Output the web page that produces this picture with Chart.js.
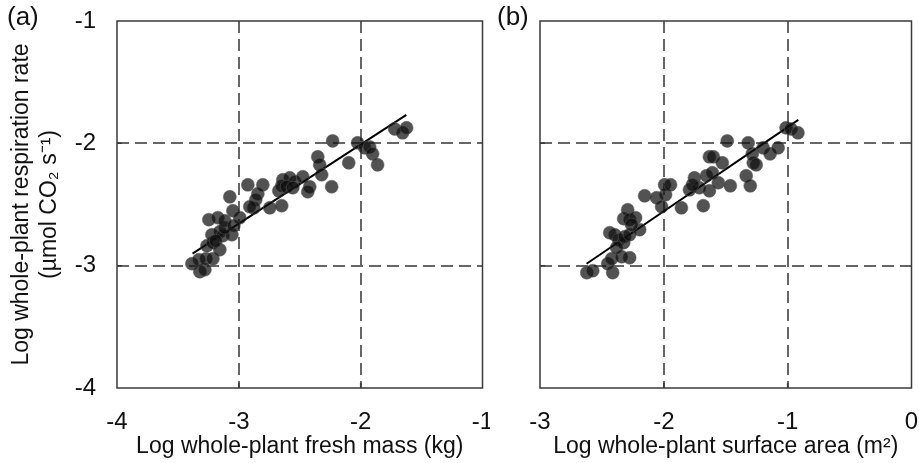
<!DOCTYPE html>
<html>
<head>
<meta charset="utf-8">
<script src="https://cdn.jsdelivr.net/npm/chart.js@4"></script>
<style>
  body { margin: 0; background: #fff; }
  #wrapA { position: absolute; left: 0; top: 0; width: 490px; height: 463px; }
  #wrapB { position: absolute; left: 490px; top: 0; width: 429px; height: 463px; }
</style>
</head>
<body>
<div id="wrapA"><canvas id="chartA"></canvas></div>
<div id="wrapB"><canvas id="chartB"></canvas></div>
<script>
// panel (a): log fresh mass (kg) vs log respiration
const massX = [-3.385, -3.320, -3.279, -3.328, -3.270, -3.213, -3.262, -3.213, -3.156, -3.221,
  -3.156, -3.131, -3.057, -3.115, -3.246, -3.172, -3.115, -3.049, -2.992, -3.041,
  -3.074, -2.926, -2.803, -2.844, -2.861, -2.877, -2.746, -2.648, -2.672, -2.639,
  -2.582, -2.541, -2.648, -2.607, -2.557, -2.475, -2.418, -2.434, -2.352, -2.336,
  -2.320, -2.238, -2.230, -2.098, -2.025, -1.967, -1.926, -1.902, -1.861, -1.721,
  -1.656, -1.623, -3.189, -2.910];
const massResp = [-2.984, -3.049, -3.033, -2.951, -2.943, -2.943, -2.837, -2.812, -2.869, -2.747,
  -2.722, -2.755, -2.747, -2.690, -2.624, -2.608, -2.633, -2.551, -2.608, -2.673,
  -2.437, -2.339, -2.339, -2.412, -2.461, -2.527, -2.527, -2.510, -2.388, -2.298,
  -2.282, -2.314, -2.347, -2.355, -2.363, -2.273, -2.355, -2.396, -2.110, -2.176,
  -2.257, -2.355, -1.980, -2.159, -1.996, -2.037, -2.029, -2.086, -2.176, -1.882,
  -1.914, -1.873, -2.796, -2.518];
const massFitX = [-3.38, -1.625];
const massFitY = [-2.902, -1.767];

// panel (b): log surface area (m2) vs log respiration
const areaX = [-2.622, -2.574, -2.413, -2.453, -2.421, -2.276, -2.340, -2.437, -2.397, -2.364,
  -2.324, -2.381, -2.316, -2.276, -2.195, -2.324, -2.292, -2.276, -2.228, -2.260,
  -2.155, -2.059, -2.018, -1.986, -1.994, -1.946, -1.858, -1.793, -1.753, -1.713,
  -1.656, -1.632, -1.681, -1.608, -1.560, -1.463, -1.632, -1.600, -1.528, -1.488,
  -1.335, -1.302, -1.319, -1.286, -1.278, -1.254, -1.198, -1.142, -1.077, -1.013,
  -0.973, -0.917, -1.769];
const areaResp = [-3.057, -3.041, -3.057, -2.984, -2.943, -2.935, -2.927, -2.731, -2.747, -2.788,
  -2.812, -2.853, -2.763, -2.747, -2.706, -2.616, -2.543, -2.624, -2.608, -2.665,
  -2.429, -2.445, -2.518, -2.420, -2.339, -2.339, -2.527, -2.380, -2.282, -2.363,
  -2.265, -2.388, -2.510, -2.241, -2.322, -2.347, -2.110, -2.110, -2.159, -1.980,
  -2.265, -2.347, -1.996, -2.086, -2.159, -2.176, -2.037, -2.086, -2.037, -1.873,
  -1.882, -1.914, -2.339];
const areaFitX = [-2.624, -0.914];
const areaFitY = [-2.984, -1.808];

const respTicks = [-4, -3, -2, -1];
const massTicks = [-4, -3, -2, -1];
const areaTicks = [-3, -2, -1, 0];

const FONT = 'Liberation Sans, Arial, sans-serif';
const GRID = '#666';
const AXIS = '#3a3a3a';

function pts(xs, ys) { return xs.map((x, i) => ({ x: x, y: ys[i] })); }

function fixTicks(arr) {
  return function (scale) { scale.ticks = arr.map(v => ({ value: v })); };
}

// box round the plot area, inner tick marks, panel letter
function frame(letter) {
  return {
    id: 'frame' + letter,
    beforeDatasetsDraw(chart) {
      const { ctx, chartArea: a, scales } = chart;
      ctx.save();
      ctx.strokeStyle = AXIS;
      ctx.lineWidth = 1.5;
      ctx.strokeRect(a.left, a.top, a.right - a.left, a.bottom - a.top);
      ctx.beginPath();
      scales.x.ticks.forEach(t => {
        const px = scales.x.getPixelForValue(t.value);
        if (px > a.left + 1 && px < a.right - 1) { ctx.moveTo(px, a.bottom); ctx.lineTo(px, a.bottom - 5); }
      });
      scales.y.ticks.forEach(t => {
        const py = scales.y.getPixelForValue(t.value);
        if (py > a.top + 1 && py < a.bottom - 1) { ctx.moveTo(a.left, py); ctx.lineTo(a.left + 5, py); }
      });
      ctx.stroke();
      ctx.restore();
    },
    afterDraw(chart) {
      const ctx = chart.ctx;
      ctx.save();
      ctx.fillStyle = '#111';
      ctx.font = '26px ' + FONT;
      ctx.textBaseline = 'top';
      ctx.fillText(letter, 7, 5);
      ctx.restore();
    }
  };
}

function makeChart(id, xs, ys, fx, fy, xTicks, xMin, xMax, xTitle, letter, showY) {
  const gridColor = ctx => {
    const v = ctx.tick ? ctx.tick.value : null;
    return (v === ctx.scale.min || v === ctx.scale.max) ? 'rgba(0,0,0,0)' : GRID;
  };
  return new Chart(document.getElementById(id), {
    type: 'scatter',
    data: {
      datasets: [{
        data: pts(xs, ys),
        pointRadius: 6.5,
        pointHoverRadius: 6.5,
        backgroundColor: 'rgba(15,15,15,0.72)',
        borderColor: 'rgba(90,90,90,0.5)',
        borderWidth: 1
      }, {
        type: 'line',
        data: pts(fx, fy),
        borderColor: '#000',
        borderWidth: 2,
        pointRadius: 0,
        fill: false
      }]
    },
    options: {
      responsive: true,
      maintainAspectRatio: false,
      animation: false,
      events: [],
      layout: { padding: { left: 0, right: 6, top: 21, bottom: 0 } },
      plugins: { legend: { display: false }, tooltip: { enabled: false } },
      scales: {
        x: {
          type: 'linear', min: xMin, max: xMax,
          afterBuildTicks: fixTicks(xTicks),
          afterFit: s => { s.height = 75; s.paddingLeft = 0; s.paddingRight = 0; },
          border: { display: false, dash: [12, 6] },
          grid: { color: gridColor, lineWidth: 2, drawTicks: false },
          ticks: { color: '#111', padding: 20, font: { family: FONT, size: 24 } },
          title: {
            display: true, text: xTitle, color: '#111',
            font: { family: FONT, size: 23, lineHeight: 1.2 },
            padding: { top: 0, bottom: 3 }
          }
        },
        y: {
          type: 'linear', min: -4, max: -1,
          afterBuildTicks: fixTicks(respTicks),
          afterFit: s => { s.width = showY ? 117 : 50; s.paddingTop = 0; s.paddingBottom = 0; },
          border: { display: false, dash: [12, 6] },
          grid: { color: gridColor, lineWidth: 2, drawTicks: false },
          ticks: { display: showY, color: '#111', padding: 21, font: { family: FONT, size: 24 } },
          title: {
            display: showY,
            text: ['Log whole-plant respiration rate', '(\u00b5mol CO\u2082 s\u207b\u00b9)'],
            color: '#111',
            font: { family: FONT, size: 23, lineHeight: 1.2 },
            padding: { top: 8, bottom: 0 }
          }
        }
      }
    },
    plugins: [frame(letter)]
  });
}

makeChart('chartA', massX, massResp, massFitX, massFitY, massTicks, -4, -1,
  'Log whole-plant fresh mass (kg)', '(a)', true);
makeChart('chartB', areaX, areaResp, areaFitX, areaFitY, areaTicks, -3, 0,
  'Log whole-plant surface area (m\u00b2)', '(b)', false);
</script>
</body>
</html>
